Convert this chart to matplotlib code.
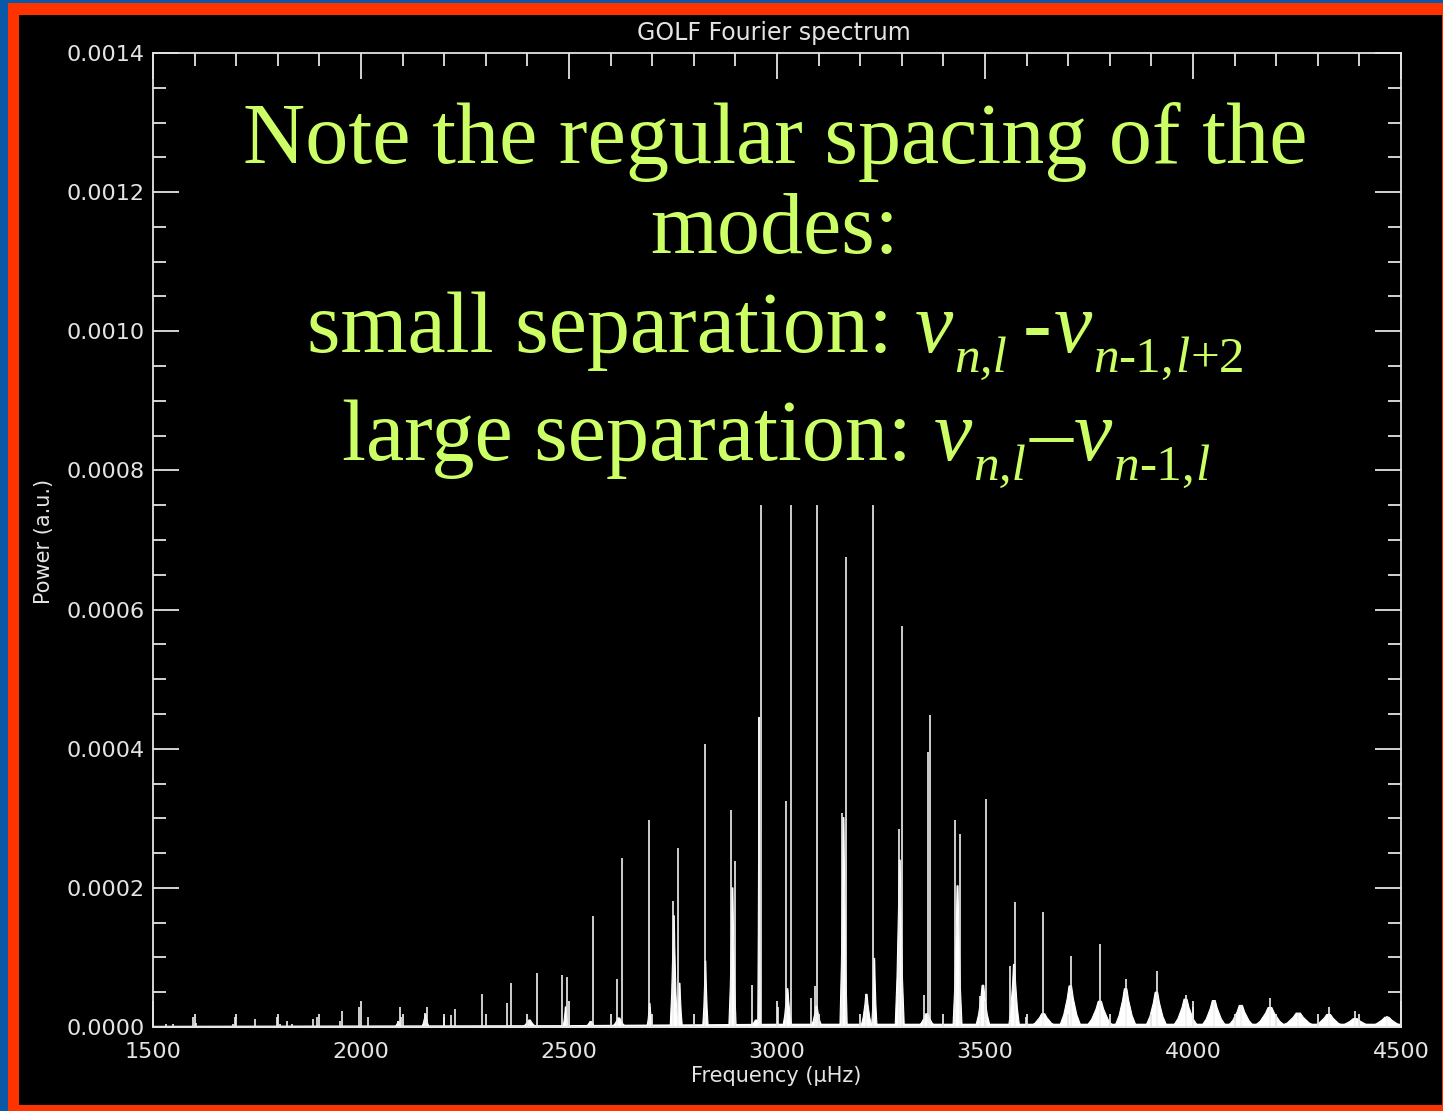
import matplotlib
matplotlib.use("Agg")
import matplotlib.pyplot as plt
from matplotlib.patches import Rectangle
from matplotlib.ticker import MultipleLocator

# ---------------- data ----------------
spike_freq = [1531, 1547, 1595, 1603, 1693, 1698, 1746, 1799, 1806, 1821, 1833,
              1885, 1894, 1949, 1954, 1996, 2018, 2090, 2094, 2097, 2155, 2158,
              2200, 2216, 2227, 2291, 2350, 2360, 2405, 2424, 2483, 2494, 2552,
              2558, 2616, 2627, 2692, 2750, 2761, 2826, 2889, 2900, 2941, 2956,
              2962, 3002, 3022, 3033, 3081, 3092, 3097, 3156, 3167, 3215, 3231,
              3294, 3300, 3353, 3364, 3368, 3429, 3440, 3488, 3502, 3560, 3573,
              3599, 3640, 3706, 3776, 3839, 3914, 3982, 4000, 4050, 4115, 4185,
              4253, 4326, 4390, 4466]
spike_power = [0.000005, 0.000005, 0.000014, 0.000006, 0.000005, 0.000014,
               0.000011, 0.000014, 0.000005, 0.000008, 0.000005, 0.000011,
               0.000014, 0.000008, 0.000023, 0.000029, 0.000014, 0.000008,
               0.000029, 0.000014, 0.000020, 0.000029, 0.000014, 0.000017,
               0.000026, 0.000047, 0.000035, 0.000063, 0.000010, 0.000078,
               0.000075, 0.000072, 0.000008, 0.000160, 0.0000685, 0.000243,
               0.000297, 0.000181, 0.000257, 0.000407, 0.000312, 0.000239,
               0.000060, 0.000445, 0.000750, 0.000029, 0.000325, 0.000750,
               0.000041, 0.000059, 0.000750, 0.000307, 0.000676, 0.000047,
               0.000750, 0.000285, 0.000576, 0.000046, 0.000395, 0.000448,
               0.000297, 0.000277, 0.000044, 0.000328, 0.000087, 0.000179,
               0.000014, 0.000166, 0.000102, 0.000120, 0.0000685, 0.0000808,
               0.000046, 0.000029, 0.000038, 0.000032, 0.000041, 0.000020,
               0.000029, 0.0000225, 0.000016]

hump_freq = [2090, 2155, 2405, 2492, 2552, 2620, 2694, 2752, 2766, 2828, 2893,
             2950, 2957, 3025, 3095, 3160, 3215, 3234, 3295, 3360, 3434, 3495,
             3570, 3640, 3705, 3776, 3838, 3912, 3982, 4050, 4115, 4185, 4253,
             4326, 4390, 4466]
hump_power = [0.000008, 0.000018, 0.000010, 0.000029, 0.000008, 0.000013,
              0.000034, 0.000160, 0.000063, 0.000095, 0.000200, 0.000010,
              0.000445, 0.000055, 0.000030, 0.000301, 0.000047, 0.0000986,
              0.000240, 0.000019, 0.000203, 0.000060, 0.000090, 0.000019,
              0.000059, 0.000037, 0.000055, 0.000050, 0.000040, 0.000038,
              0.000031, 0.000028, 0.000020, 0.000018, 0.000012, 0.000014]
hump_halfwidth = [4, 4, 8, 3, 6, 8, 3, 4, 3, 3, 4, 8, 1.5, 5, 6, 4, 6, 3, 5,
                  10, 5, 8, 6, 15, 12, 15, 12, 12, 14, 14, 15, 18, 20, 18, 20, 20]

floor_freq = [1500, 2500, 3000, 4500]
floor_power = [0.000001, 0.000002, 0.000004, 0.000004]

x_ticks = [1500, 2000, 2500, 3000, 3500, 4000, 4500]
y_ticks = [0.0, 0.0002, 0.0004, 0.0006, 0.0008, 0.0010, 0.0012, 0.0014]
y_ticklabels = ['0.0000', '0.0002', '0.0004', '0.0006', '0.0008', '0.0010',
                '0.0012', '0.0014']

# ---------------- figure ----------------
W, H = 1443, 1111
fig = plt.figure(figsize=(W / 100, H / 100), dpi=100)
fig.patch.set_facecolor('#0B57A8')

def px_rect(x0, y0, x1, y1, color):
    fig.add_artist(Rectangle((x0 / W, 1 - y1 / H), (x1 - x0) / W, (y1 - y0) / H,
                             transform=fig.transFigure, facecolor=color,
                             edgecolor='none', zorder=-10))

px_rect(8, 3, 1443, 1111, '#FF3300')
px_rect(19, 15, 1442, 1105, '#000000')

ax = fig.add_axes([153 / W, 1 - 1027 / H, (1401 - 153) / W, (1027 - 53) / H])
ax.set_facecolor('black')
ax.patch.set_alpha(0)

fg = '#E4E4E4'
ax.fill_between(floor_freq, 0, floor_power, color='white', lw=1.5)
tmpl_x = [-2.2, -1.3, -0.6, -0.25, 0.25, 0.6, 1.3, 2.2]
tmpl_y = [0, 0.3, 0.7, 1, 1, 0.7, 0.3, 0]
for f, h, w in zip(hump_freq, hump_power, hump_halfwidth):
    ax.fill([f + w * a for a in tmpl_x], [h * b for b in tmpl_y],
            color='white', lw=0.8, ec='white')
ax.vlines(spike_freq, 0, spike_power, color='#F0F0F0', lw=1.2)

ax.set_xlim(1500, 4500)
ax.set_ylim(0, 0.0014)
ax.set_xticks(x_ticks)
ax.set_xticklabels([str(v) for v in x_ticks])
ax.set_yticks(y_ticks)
ax.set_yticklabels(y_ticklabels)
ax.xaxis.set_minor_locator(MultipleLocator(100))
ax.yaxis.set_minor_locator(MultipleLocator(0.00005))

for s in ax.spines.values():
    s.set_color(fg)
    s.set_linewidth(1.3)
ax.tick_params(which='both', direction='in', top=True, right=True, colors=fg,
               width=1.3, labelsize=16)
ax.tick_params(which='major', length=19)
ax.tick_params(which='minor', length=9.5)
ax.tick_params(axis='x', pad=11)
ax.tick_params(axis='y', pad=6)
for lab in ax.get_xticklabels() + ax.get_yticklabels():
    lab.set_color(fg)

fig.text(774 / W, 1 - 33 / H, 'GOLF Fourier spectrum', color=fg, fontsize=17,
         ha='center', va='center')
fig.text(776 / W, 1 - 1076 / H, 'Frequency (µHz)', color=fg, fontsize=15,
         ha='center', va='center')
fig.text(44 / W, 1 - 541 / H, 'Power (a.u.)', color=fg, fontsize=15,
         ha='center', va='center', rotation=90)

tc = '#CCFF66'
fs = 62
sub = 37
serif = ['Liberation Serif', 'DejaVu Serif']
fig.text(775 / W, 1 - 163 / H, 'Note the regular spacing of the', color=tc,
         fontsize=fs, family=serif, ha='center', va='baseline')
fig.text(775 / W, 1 - 253 / H, 'modes:', color=tc, fontsize=fs, family=serif,
         ha='center', va='baseline')

renderer = fig.canvas.get_renderer()

def draw_runs(runs, cx, base_y):
    placed = []
    x = 0.0
    for text, italic, size, dy, gap in runs:
        x += gap
        t = fig.text(0, 0, text, fontsize=size, family=serif, color=tc,
                     style='italic' if italic else 'normal',
                     ha='left', va='baseline')
        w = t.get_window_extent(renderer).width
        placed.append((t, x, dy))
        x += w
    x0 = cx - x / 2
    for t, xo, dy in placed:
        t.set_position(((x0 + xo) / W, 1 - (base_y + dy) / H))

D = 20  # subscript drop in px
draw_runs([('small separation:', False, fs, 0, 0),
           ('v', True, fs, 0, 22),
           ('n,l', True, sub, D, 1),
           ('-', False, fs, 0, 16),
           ('v', True, fs, 0, 2),
           ('n', True, sub, D, 1),
           ('-1,', False, sub, D, 0),
           ('l', True, sub, D, 1),
           ('+2', False, sub, D, 1)], 776, 352)
draw_runs([('large separation:', False, fs, 0, 0),
           ('v', True, fs, 0, 22),
           ('n,l', True, sub, D, 1),
           ('–', False, fs, 0, 4),
           ('v', True, fs, 0, 1),
           ('n', True, sub, D, 1),
           ('-1,', False, sub, D, 0),
           ('l', True, sub, D, 1)], 776, 460)

fig.savefig('out.png', dpi=100, facecolor=fig.get_facecolor())
